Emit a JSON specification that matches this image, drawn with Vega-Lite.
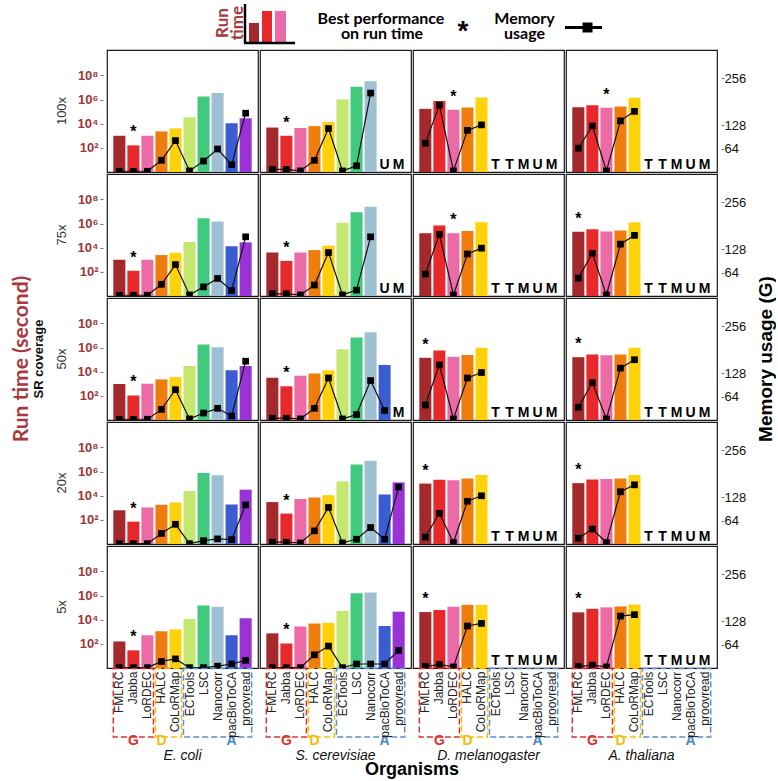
{
  "$schema": "https://vega.github.io/schema/vega-lite/v6.json",
  "padding": {"left": 11, "top": 2, "right": 0, "bottom": 0},
  "config": {
    "font": "Liberation Sans",
    "view": {"stroke": "#1a1a1a", "strokeWidth": 1.2},
    "axis": {"grid": false, "domain": false, "tickSize": 3, "tickColor": "#777", "labelPadding": 2, "labelFlush": false}
  },
  "spacing": 0,
  "vconcat": [
    {
      "width": 611,
      "height": 45,
      "view": {"stroke": null},
      "data": {"values": [{}]},
      "layer": [
        {"mark": {"type": "rect", "color": "#a4292d"}, "encoding": {
          "x": {"datum": 145, "type": "quantitative", "scale": {"domain": [0, 611], "nice": false, "zero": false}, "axis": null},
          "x2": {"datum": 155},
          "y": {"datum": 19, "type": "quantitative", "scale": {"domain": [0, 45], "nice": false, "zero": false, "reverse": true}, "axis": null},
          "y2": {"datum": 38}}},
        {"mark": {"type": "rect", "color": "#e8292c"}, "encoding": {"x": {"datum": 158, "type": "quantitative"}, "x2": {"datum": 168}, "y": {"datum": 7, "type": "quantitative"}, "y2": {"datum": 38}}},
        {"mark": {"type": "rect", "color": "#ec6aa6"}, "encoding": {"x": {"datum": 171, "type": "quantitative"}, "x2": {"datum": 182}, "y": {"datum": 7, "type": "quantitative"}, "y2": {"datum": 38}}},
        {"mark": {"type": "rule", "color": "#000", "strokeWidth": 2.5}, "encoding": {"x": {"datum": 141, "type": "quantitative"}, "y": {"datum": 0, "type": "quantitative"}, "y2": {"datum": 39}}},
        {"mark": {"type": "rule", "color": "#000", "strokeWidth": 2.5}, "encoding": {"x": {"datum": 140, "type": "quantitative"}, "x2": {"datum": 191}, "y": {"datum": 39, "type": "quantitative"}}},
        {"mark": {"type": "text", "text": "Run", "angle": 270, "font": "Lato", "fontSize": 17, "fontWeight": "bold", "color": "#a8393c", "align": "center", "baseline": "middle"}, "encoding": {"x": {"datum": 119, "type": "quantitative"}, "y": {"datum": 19, "type": "quantitative"}}},
        {"mark": {"type": "text", "text": "time", "angle": 270, "font": "Lato", "fontSize": 17, "fontWeight": "bold", "color": "#a8393c", "align": "center", "baseline": "middle"}, "encoding": {"x": {"datum": 134, "type": "quantitative"}, "y": {"datum": 19, "type": "quantitative"}}},
        {"mark": {"type": "text", "text": "Best performance", "font": "Lato", "fontSize": 16, "fontWeight": "bold", "color": "#000", "align": "center", "baseline": "middle"}, "encoding": {"x": {"datum": 277, "type": "quantitative"}, "y": {"datum": 15, "type": "quantitative"}}},
        {"mark": {"type": "text", "text": "on run time", "font": "Lato", "fontSize": 16, "fontWeight": "bold", "color": "#000", "align": "center", "baseline": "middle"}, "encoding": {"x": {"datum": 278, "type": "quantitative"}, "y": {"datum": 29.5, "type": "quantitative"}}},
        {"mark": {"type": "text", "text": "*", "fontSize": 28, "fontWeight": "bold", "color": "#000", "align": "center", "baseline": "alphabetic"}, "encoding": {"x": {"datum": 359, "type": "quantitative"}, "y": {"datum": 36, "type": "quantitative"}}},
        {"mark": {"type": "text", "text": "Memory", "font": "Lato", "fontSize": 16, "fontWeight": "bold", "color": "#000", "align": "center", "baseline": "middle"}, "encoding": {"x": {"datum": 420.5, "type": "quantitative"}, "y": {"datum": 15, "type": "quantitative"}}},
        {"mark": {"type": "text", "text": "usage", "font": "Lato", "fontSize": 16, "fontWeight": "bold", "color": "#000", "align": "center", "baseline": "middle"}, "encoding": {"x": {"datum": 420.5, "type": "quantitative"}, "y": {"datum": 29.5, "type": "quantitative"}}},
        {"mark": {"type": "rule", "color": "#000", "strokeWidth": 3}, "encoding": {"x": {"datum": 461, "type": "quantitative"}, "x2": {"datum": 498}, "y": {"datum": 23.5, "type": "quantitative"}}},
        {"mark": {"type": "point", "shape": "square", "filled": true, "color": "#000", "opacity": 1, "size": 100}, "encoding": {"x": {"datum": 483.5, "type": "quantitative"}, "y": {"datum": 23.5, "type": "quantitative"}}}
      ]
    },
    {
      "spacing": 0,
      "hconcat": [
        {
          "title": {"text": "Run time (second)", "orient": "left", "anchor": "middle", "font": "Lato", "fontSize": 21, "fontWeight": "bold", "color": "#a8393c", "offset": 1},
          "data": {"values": [{"c": "100x"}, {"c": "75x"}, {"c": "50x"}, {"c": "20x"}, {"c": "5x"}]},
          "facet": {
            "row": {"field": "c", "type": "nominal", "sort": ["100x", "75x", "50x", "20x", "5x"],
              "header": {"title": "SR coverage", "titleFontSize": 13, "titleFontWeight": "bold", "titleColor": "#111", "labelFontSize": 13, "labelColor": "#333", "labelPadding": 8, "titlePadding": 0}}
          },
          "spacing": 0,
          "spec": {
            "width": 1,
            "height": 122,
            "view": {"stroke": "transparent"},
            "mark": {"type": "point", "opacity": 0, "size": 1},
            "encoding": {
              "y": {"datum": 100000, "type": "quantitative", "scale": {"type": "log", "domain": [1, 12600000000], "nice": false},
                "axis": {"orient": "left", "title": null, "values": [100, 10000, 1000000, 100000000], "labelExpr": "datum.value == 100 ? '10²' : datum.value == 10000 ? '10⁴' : datum.value == 1000000 ? '10⁶' : '10⁸'", "labelColor": "#a0353a", "labelFontSize": 13, "labelFontWeight": "bold"}}
            }
          }
        },
        {
          "data": {"values": [
{"c":"100x","o":"E. coli","t":"FMLRC","r":1000,"m":2},
{"c":"100x","o":"E. coli","t":"Jabba","r":160,"m":2,"b":1},
{"c":"100x","o":"E. coli","t":"LoRDEC","r":1000,"m":2},
{"c":"100x","o":"E. coli","t":"HALC","r":2300,"m":32},
{"c":"100x","o":"E. coli","t":"CoLoRMap","r":4000,"m":86},
{"c":"100x","o":"E. coli","t":"ECTools","r":34000,"m":3},
{"c":"100x","o":"E. coli","t":"LSC","r":1800000,"m":30},
{"c":"100x","o":"E. coli","t":"Nanocorr","r":3400000,"m":63},
{"c":"100x","o":"E. coli","t":"pacBioToCA","r":11000,"m":20},
{"c":"100x","o":"E. coli","t":"proovread","r":28000,"m":161},
{"c":"100x","o":"S. cerevisiae","t":"FMLRC","r":4800,"m":7},
{"c":"100x","o":"S. cerevisiae","t":"Jabba","r":1000,"m":7,"b":1},
{"c":"100x","o":"S. cerevisiae","t":"LoRDEC","r":4300,"m":3},
{"c":"100x","o":"S. cerevisiae","t":"HALC","r":6300,"m":32},
{"c":"100x","o":"S. cerevisiae","t":"CoLoRMap","r":14000,"m":119},
{"c":"100x","o":"S. cerevisiae","t":"ECTools","r":1000000,"m":3},
{"c":"100x","o":"S. cerevisiae","t":"LSC","r":11700000,"m":17},
{"c":"100x","o":"S. cerevisiae","t":"Nanocorr","r":32000000,"m":216},
{"c":"100x","o":"S. cerevisiae","t":"pacBioToCA","na":"U"},
{"c":"100x","o":"S. cerevisiae","t":"proovread","na":"M"},
{"c":"100x","o":"D. melanogaster","t":"FMLRC","r":170000,"m":79},
{"c":"100x","o":"D. melanogaster","t":"Jabba","r":760000,"m":183},
{"c":"100x","o":"D. melanogaster","t":"LoRDEC","r":141000,"m":3,"b":1},
{"c":"100x","o":"D. melanogaster","t":"HALC","r":220000,"m":114},
{"c":"100x","o":"D. melanogaster","t":"CoLoRMap","r":1500000,"m":129},
{"c":"100x","o":"D. melanogaster","t":"ECTools","na":"T"},
{"c":"100x","o":"D. melanogaster","t":"LSC","na":"T"},
{"c":"100x","o":"D. melanogaster","t":"Nanocorr","na":"M"},
{"c":"100x","o":"D. melanogaster","t":"pacBioToCA","na":"U"},
{"c":"100x","o":"D. melanogaster","t":"proovread","na":"M"},
{"c":"100x","o":"A. thaliana","t":"FMLRC","r":234000,"m":65},
{"c":"100x","o":"A. thaliana","t":"Jabba","r":340000,"m":126},
{"c":"100x","o":"A. thaliana","t":"LoRDEC","r":204000,"m":3,"b":1},
{"c":"100x","o":"A. thaliana","t":"HALC","r":263000,"m":140},
{"c":"100x","o":"A. thaliana","t":"CoLoRMap","r":1400000,"m":166},
{"c":"100x","o":"A. thaliana","t":"ECTools","na":"T"},
{"c":"100x","o":"A. thaliana","t":"LSC","na":"T"},
{"c":"100x","o":"A. thaliana","t":"Nanocorr","na":"M"},
{"c":"100x","o":"A. thaliana","t":"pacBioToCA","na":"U"},
{"c":"100x","o":"A. thaliana","t":"proovread","na":"M"},
{"c":"75x","o":"E. coli","t":"FMLRC","r":1000,"m":2},
{"c":"75x","o":"E. coli","t":"Jabba","r":123,"m":2,"b":1},
{"c":"75x","o":"E. coli","t":"LoRDEC","r":1000,"m":2},
{"c":"75x","o":"E. coli","t":"HALC","r":2450,"m":32},
{"c":"75x","o":"E. coli","t":"CoLoRMap","r":3800,"m":86},
{"c":"75x","o":"E. coli","t":"ECTools","r":29500,"m":3},
{"c":"75x","o":"E. coli","t":"LSC","r":2800000,"m":25},
{"c":"75x","o":"E. coli","t":"Nanocorr","r":1500000,"m":48},
{"c":"75x","o":"E. coli","t":"pacBioToCA","r":13200,"m":15},
{"c":"75x","o":"E. coli","t":"proovread","r":27500,"m":162},
{"c":"75x","o":"S. cerevisiae","t":"FMLRC","r":4000,"m":6},
{"c":"75x","o":"S. cerevisiae","t":"Jabba","r":800,"m":6,"b":1},
{"c":"75x","o":"S. cerevisiae","t":"LoRDEC","r":4000,"m":3},
{"c":"75x","o":"S. cerevisiae","t":"HALC","r":6300,"m":30},
{"c":"75x","o":"S. cerevisiae","t":"CoLoRMap","r":14800,"m":119},
{"c":"75x","o":"S. cerevisiae","t":"ECTools","r":1175000,"m":3},
{"c":"75x","o":"S. cerevisiae","t":"LSC","r":8700000,"m":16},
{"c":"75x","o":"S. cerevisiae","t":"Nanocorr","r":25000000,"m":162},
{"c":"75x","o":"S. cerevisiae","t":"pacBioToCA","na":"U"},
{"c":"75x","o":"S. cerevisiae","t":"proovread","na":"M"},
{"c":"75x","o":"D. melanogaster","t":"FMLRC","r":158000,"m":60},
{"c":"75x","o":"D. melanogaster","t":"Jabba","r":676000,"m":169},
{"c":"75x","o":"D. melanogaster","t":"LoRDEC","r":158000,"m":3,"b":1},
{"c":"75x","o":"D. melanogaster","t":"HALC","r":245000,"m":115},
{"c":"75x","o":"D. melanogaster","t":"CoLoRMap","r":1260000,"m":131},
{"c":"75x","o":"D. melanogaster","t":"ECTools","na":"T"},
{"c":"75x","o":"D. melanogaster","t":"LSC","na":"T"},
{"c":"75x","o":"D. melanogaster","t":"Nanocorr","na":"M"},
{"c":"75x","o":"D. melanogaster","t":"pacBioToCA","na":"U"},
{"c":"75x","o":"D. melanogaster","t":"proovread","na":"M"},
{"c":"75x","o":"A. thaliana","t":"FMLRC","r":204000,"m":49,"b":1},
{"c":"75x","o":"A. thaliana","t":"Jabba","r":340000,"m":117},
{"c":"75x","o":"A. thaliana","t":"LoRDEC","r":219000,"m":3},
{"c":"75x","o":"A. thaliana","t":"HALC","r":263000,"m":142},
{"c":"75x","o":"A. thaliana","t":"CoLoRMap","r":1260000,"m":166},
{"c":"75x","o":"A. thaliana","t":"ECTools","na":"T"},
{"c":"75x","o":"A. thaliana","t":"LSC","na":"T"},
{"c":"75x","o":"A. thaliana","t":"Nanocorr","na":"M"},
{"c":"75x","o":"A. thaliana","t":"pacBioToCA","na":"U"},
{"c":"75x","o":"A. thaliana","t":"proovread","na":"M"},
{"c":"50x","o":"E. coli","t":"FMLRC","r":955,"m":2},
{"c":"50x","o":"E. coli","t":"Jabba","r":107,"m":2,"b":1},
{"c":"50x","o":"E. coli","t":"LoRDEC","r":1000,"m":2},
{"c":"50x","o":"E. coli","t":"HALC","r":2300,"m":29},
{"c":"50x","o":"E. coli","t":"CoLoRMap","r":3550,"m":83},
{"c":"50x","o":"E. coli","t":"ECTools","r":29500,"m":3},
{"c":"50x","o":"E. coli","t":"LSC","r":1800000,"m":19},
{"c":"50x","o":"E. coli","t":"Nanocorr","r":1050000,"m":32},
{"c":"50x","o":"E. coli","t":"pacBioToCA","r":13200,"m":11},
{"c":"50x","o":"E. coli","t":"proovread","r":29500,"m":161},
{"c":"50x","o":"S. cerevisiae","t":"FMLRC","r":3160,"m":5},
{"c":"50x","o":"S. cerevisiae","t":"Jabba","r":620,"m":5,"b":1},
{"c":"50x","o":"S. cerevisiae","t":"LoRDEC","r":4570,"m":3},
{"c":"50x","o":"S. cerevisiae","t":"HALC","r":7080,"m":32},
{"c":"50x","o":"S. cerevisiae","t":"CoLoRMap","r":13200,"m":115},
{"c":"50x","o":"S. cerevisiae","t":"ECTools","r":708000,"m":3},
{"c":"50x","o":"S. cerevisiae","t":"LSC","r":6760000,"m":15},
{"c":"50x","o":"S. cerevisiae","t":"Nanocorr","r":18200000,"m":108},
{"c":"50x","o":"S. cerevisiae","t":"pacBioToCA","r":35500,"m":26},
{"c":"50x","o":"S. cerevisiae","t":"proovread","na":"M"},
{"c":"50x","o":"D. melanogaster","t":"FMLRC","r":141000,"m":41,"b":1},
{"c":"50x","o":"D. melanogaster","t":"Jabba","r":562000,"m":151},
{"c":"50x","o":"D. melanogaster","t":"LoRDEC","r":170000,"m":3},
{"c":"50x","o":"D. melanogaster","t":"HALC","r":245000,"m":115},
{"c":"50x","o":"D. melanogaster","t":"CoLoRMap","r":977000,"m":130},
{"c":"50x","o":"D. melanogaster","t":"ECTools","na":"T"},
{"c":"50x","o":"D. melanogaster","t":"LSC","na":"T"},
{"c":"50x","o":"D. melanogaster","t":"Nanocorr","na":"M"},
{"c":"50x","o":"D. melanogaster","t":"pacBioToCA","na":"U"},
{"c":"50x","o":"D. melanogaster","t":"proovread","na":"M"},
{"c":"50x","o":"A. thaliana","t":"FMLRC","r":158000,"m":35,"b":1},
{"c":"50x","o":"A. thaliana","t":"Jabba","r":263000,"m":102},
{"c":"50x","o":"A. thaliana","t":"LoRDEC","r":234000,"m":3},
{"c":"50x","o":"A. thaliana","t":"HALC","r":263000,"m":142},
{"c":"50x","o":"A. thaliana","t":"CoLoRMap","r":977000,"m":165},
{"c":"50x","o":"A. thaliana","t":"ECTools","na":"T"},
{"c":"50x","o":"A. thaliana","t":"LSC","na":"T"},
{"c":"50x","o":"A. thaliana","t":"Nanocorr","na":"M"},
{"c":"50x","o":"A. thaliana","t":"pacBioToCA","na":"U"},
{"c":"50x","o":"A. thaliana","t":"proovread","na":"M"},
{"c":"20x","o":"E. coli","t":"FMLRC","r":617,"m":1},
{"c":"20x","o":"E. coli","t":"Jabba","r":71,"m":1,"b":1},
{"c":"20x","o":"E. coli","t":"LoRDEC","r":1070,"m":1},
{"c":"20x","o":"E. coli","t":"HALC","r":1780,"m":29},
{"c":"20x","o":"E. coli","t":"CoLoRMap","r":2750,"m":54},
{"c":"20x","o":"E. coli","t":"ECTools","r":24500,"m":1},
{"c":"20x","o":"E. coli","t":"LSC","r":760000,"m":9},
{"c":"20x","o":"E. coli","t":"Nanocorr","r":490000,"m":14},
{"c":"20x","o":"E. coli","t":"pacBioToCA","r":1900,"m":12},
{"c":"20x","o":"E. coli","t":"proovread","r":31600,"m":107},
{"c":"20x","o":"S. cerevisiae","t":"FMLRC","r":2950,"m":5},
{"c":"20x","o":"S. cerevisiae","t":"Jabba","r":330,"m":5,"b":1},
{"c":"20x","o":"S. cerevisiae","t":"LoRDEC","r":5250,"m":3},
{"c":"20x","o":"S. cerevisiae","t":"HALC","r":7080,"m":36},
{"c":"20x","o":"S. cerevisiae","t":"CoLoRMap","r":11000,"m":100},
{"c":"20x","o":"S. cerevisiae","t":"ECTools","r":151000,"m":3},
{"c":"20x","o":"S. cerevisiae","t":"LSC","r":3900000,"m":13},
{"c":"20x","o":"S. cerevisiae","t":"Nanocorr","r":7760000,"m":45},
{"c":"20x","o":"S. cerevisiae","t":"pacBioToCA","r":12300,"m":13},
{"c":"20x","o":"S. cerevisiae","t":"proovread","r":126000,"m":156},
{"c":"20x","o":"D. melanogaster","t":"FMLRC","r":100000,"m":19,"b":1},
{"c":"20x","o":"D. melanogaster","t":"Jabba","r":204000,"m":84},
{"c":"20x","o":"D. melanogaster","t":"LoRDEC","r":190000,"m":4},
{"c":"20x","o":"D. melanogaster","t":"HALC","r":263000,"m":117},
{"c":"20x","o":"D. melanogaster","t":"CoLoRMap","r":525000,"m":132},
{"c":"20x","o":"D. melanogaster","t":"ECTools","na":"T"},
{"c":"20x","o":"D. melanogaster","t":"LSC","na":"T"},
{"c":"20x","o":"D. melanogaster","t":"Nanocorr","na":"M"},
{"c":"20x","o":"D. melanogaster","t":"pacBioToCA","na":"U"},
{"c":"20x","o":"D. melanogaster","t":"proovread","na":"M"},
{"c":"20x","o":"A. thaliana","t":"FMLRC","r":110000,"m":16,"b":1},
{"c":"20x","o":"A. thaliana","t":"Jabba","r":219000,"m":41},
{"c":"20x","o":"A. thaliana","t":"LoRDEC","r":245000,"m":4},
{"c":"20x","o":"A. thaliana","t":"HALC","r":263000,"m":143},
{"c":"20x","o":"A. thaliana","t":"CoLoRMap","r":525000,"m":162},
{"c":"20x","o":"A. thaliana","t":"ECTools","na":"T"},
{"c":"20x","o":"A. thaliana","t":"LSC","na":"T"},
{"c":"20x","o":"A. thaliana","t":"Nanocorr","na":"M"},
{"c":"20x","o":"A. thaliana","t":"pacBioToCA","na":"U"},
{"c":"20x","o":"A. thaliana","t":"proovread","na":"M"},
{"c":"5x","o":"E. coli","t":"FMLRC","r":158,"m":1},
{"c":"5x","o":"E. coli","t":"Jabba","r":29,"m":1,"b":1},
{"c":"5x","o":"E. coli","t":"LoRDEC","r":513,"m":1},
{"c":"5x","o":"E. coli","t":"HALC","r":1100,"m":18},
{"c":"5x","o":"E. coli","t":"CoLoRMap","r":1580,"m":25},
{"c":"5x","o":"E. coli","t":"ECTools","r":11700,"m":1},
{"c":"5x","o":"E. coli","t":"LSC","r":151000,"m":1},
{"c":"5x","o":"E. coli","t":"Nanocorr","r":117000,"m":5},
{"c":"5x","o":"E. coli","t":"pacBioToCA","r":513,"m":11},
{"c":"5x","o":"E. coli","t":"proovread","r":13200,"m":21},
{"c":"5x","o":"S. cerevisiae","t":"FMLRC","r":740,"m":1},
{"c":"5x","o":"S. cerevisiae","t":"Jabba","r":107,"m":1,"b":1},
{"c":"5x","o":"S. cerevisiae","t":"LoRDEC","r":2750,"m":1},
{"c":"5x","o":"S. cerevisiae","t":"HALC","r":4800,"m":36},
{"c":"5x","o":"S. cerevisiae","t":"CoLoRMap","r":5500,"m":60},
{"c":"5x","o":"S. cerevisiae","t":"ECTools","r":52500,"m":1},
{"c":"5x","o":"S. cerevisiae","t":"LSC","r":1510000,"m":11},
{"c":"5x","o":"S. cerevisiae","t":"Nanocorr","r":1740000,"m":11},
{"c":"5x","o":"S. cerevisiae","t":"pacBioToCA","r":2950,"m":11},
{"c":"5x","o":"S. cerevisiae","t":"proovread","r":45700,"m":48},
{"c":"5x","o":"D. melanogaster","t":"FMLRC","r":42700,"m":4,"b":1},
{"c":"5x","o":"D. melanogaster","t":"Jabba","r":63000,"m":10},
{"c":"5x","o":"D. melanogaster","t":"LoRDEC","r":117000,"m":3},
{"c":"5x","o":"D. melanogaster","t":"HALC","r":170000,"m":115},
{"c":"5x","o":"D. melanogaster","t":"CoLoRMap","r":170000,"m":122},
{"c":"5x","o":"D. melanogaster","t":"ECTools","na":"T"},
{"c":"5x","o":"D. melanogaster","t":"LSC","na":"T"},
{"c":"5x","o":"D. melanogaster","t":"Nanocorr","na":"M"},
{"c":"5x","o":"D. melanogaster","t":"pacBioToCA","na":"U"},
{"c":"5x","o":"D. melanogaster","t":"proovread","na":"M"},
{"c":"5x","o":"A. thaliana","t":"FMLRC","r":40700,"m":4,"b":1},
{"c":"5x","o":"A. thaliana","t":"Jabba","r":79400,"m":8},
{"c":"5x","o":"A. thaliana","t":"LoRDEC","r":105000,"m":3},
{"c":"5x","o":"A. thaliana","t":"HALC","r":126000,"m":142},
{"c":"5x","o":"A. thaliana","t":"CoLoRMap","r":182000,"m":146},
{"c":"5x","o":"A. thaliana","t":"ECTools","na":"T"},
{"c":"5x","o":"A. thaliana","t":"LSC","na":"T"},
{"c":"5x","o":"A. thaliana","t":"Nanocorr","na":"M"},
{"c":"5x","o":"A. thaliana","t":"pacBioToCA","na":"U"},
{"c":"5x","o":"A. thaliana","t":"proovread","na":"M"},
{"k":"box","c":"5x","o":"E. coli","g":"G","t0":"FMLRC","t1":"LoRDEC","lt":"Jabba"},
{"k":"box","c":"5x","o":"E. coli","g":"D","t0":"HALC","t1":"CoLoRMap","lt":"HALC"},
{"k":"box","c":"5x","o":"E. coli","g":"A","t0":"ECTools","t1":"proovread","lt":"pacBioToCA"},
{"k":"box","c":"5x","o":"S. cerevisiae","g":"G","t0":"FMLRC","t1":"LoRDEC","lt":"Jabba"},
{"k":"box","c":"5x","o":"S. cerevisiae","g":"D","t0":"HALC","t1":"CoLoRMap","lt":"HALC"},
{"k":"box","c":"5x","o":"S. cerevisiae","g":"A","t0":"ECTools","t1":"proovread","lt":"pacBioToCA"},
{"k":"box","c":"5x","o":"D. melanogaster","g":"G","t0":"FMLRC","t1":"LoRDEC","lt":"Jabba"},
{"k":"box","c":"5x","o":"D. melanogaster","g":"D","t0":"HALC","t1":"CoLoRMap","lt":"HALC"},
{"k":"box","c":"5x","o":"D. melanogaster","g":"A","t0":"ECTools","t1":"proovread","lt":"pacBioToCA"},
{"k":"box","c":"5x","o":"A. thaliana","g":"G","t0":"FMLRC","t1":"LoRDEC","lt":"Jabba"},
{"k":"box","c":"5x","o":"A. thaliana","g":"D","t0":"HALC","t1":"CoLoRMap","lt":"HALC"},
{"k":"box","c":"5x","o":"A. thaliana","g":"A","t0":"ECTools","t1":"proovread","lt":"pacBioToCA"}
          ]},
          "facet": {
            "row": {"field": "c", "type": "nominal", "sort": ["100x", "75x", "50x", "20x", "5x"], "header": {"labels": false, "title": null}},
            "column": {"field": "o", "type": "nominal", "sort": ["E. coli", "S. cerevisiae", "D. melanogaster", "A. thaliana"],
              "header": {"title": "Organisms", "titleOrient": "bottom", "labelOrient": "bottom", "labelFontSize": 14, "labelFontStyle": "italic", "labelColor": "#111", "titleFontSize": 18, "titleFontWeight": "bold", "titleColor": "#000", "labelPadding": 0, "titlePadding": -12}}
          },
          "spacing": {"row": 0, "column": 0},
          "align": {"row": "each", "column": "all"},
          "spec": {
            "width": 151,
            "height": 122,
            "resolve": {"scale": {"y": "independent"}},
            "layer": [
              {"transform": [{"filter": "datum.r > 0"}],
               "mark": {"type": "bar"},
               "encoding": {
                 "x": {"field": "t", "type": "nominal", "axis": null, "scale": {"domain": ["FMLRC","Jabba","LoRDEC","HALC","CoLoRMap","ECTools","LSC","Nanocorr","pacBioToCA","proovread"], "paddingInner": 0.14, "paddingOuter": 0.45}},
                 "y": {"field": "r", "type": "quantitative", "stack": null, "scale": {"type": "log", "domain": [1, 12600000000], "nice": false}, "axis": null},
                 "color": {"field": "t", "type": "nominal", "scale": {"domain": ["FMLRC","Jabba","LoRDEC","HALC","CoLoRMap","ECTools","LSC","Nanocorr","pacBioToCA","proovread"], "range": ["#a4292d","#e8292c","#ec6aa6","#ef7d0e","#fed20a","#c4e86f","#41ca7d","#9fc0d2","#3a5ed1","#9a33d6"]}, "legend": null}
               }},
              {"transform": [{"filter": "datum.b == 1"}],
               "mark": {"type": "text", "text": "*", "fontSize": 16, "fontWeight": "bold", "color": "#000", "baseline": "alphabetic", "dy": -8},
               "encoding": {
                 "x": {"field": "t", "type": "nominal", "axis": null},
                 "y": {"field": "r", "type": "quantitative", "scale": {"type": "log", "domain": [1, 12600000000], "nice": false}, "axis": null}
               }},
              {"transform": [{"filter": "datum.na != null"}],
               "mark": {"type": "text", "fontSize": 14, "fontWeight": "bold", "color": "#000", "baseline": "alphabetic", "dy": -3, "clip": true},
               "encoding": {
                 "x": {"field": "t", "type": "nominal", "axis": null},
                 "y": {"datum": 1, "type": "quantitative", "scale": {"type": "log", "domain": [1, 12600000000], "nice": false}, "axis": null},
                 "text": {"field": "na"}
               }},
              {"transform": [{"filter": "datum.m != null"}],
               "mark": {"type": "line", "color": "#111", "strokeWidth": 1.2, "clip": true},
               "encoding": {
                 "x": {"field": "t", "type": "nominal", "axis": null, "sort": ["FMLRC","Jabba","LoRDEC","HALC","CoLoRMap","ECTools","LSC","Nanocorr","pacBioToCA","proovread"]},
                 "y": {"field": "m", "type": "quantitative", "scale": {"domain": [0, 334], "nice": false, "zero": false}, "axis": null}
               }},
              {"transform": [{"filter": "datum.m != null"}],
               "mark": {"type": "point", "shape": "square", "filled": true, "color": "#000", "opacity": 1, "size": 45, "clip": true},
               "encoding": {
                 "x": {"field": "t", "type": "nominal", "axis": null},
                 "y": {"field": "m", "type": "quantitative", "scale": {"domain": [0, 334], "nice": false, "zero": false}, "axis": null}
               }},
              {"transform": [{"filter": "datum.k == 'box'"}],
               "mark": {"type": "rect", "fill": "transparent", "strokeWidth": 1.5, "strokeDash": [6, 3]},
               "encoding": {
                 "x": {"field": "t0", "type": "nominal", "axis": null, "bandPosition": 0},
                 "x2": {"field": "t1", "bandPosition": 1},
                 "y": {"datum": -0.005, "type": "quantitative", "scale": {"domain": [0, 1], "nice": false, "zero": false}, "axis": null},
                 "y2": {"datum": -0.565},
                 "stroke": {"field": "g", "type": "nominal", "scale": {"domain": ["G", "D", "A"], "range": ["#d8342c", "#f3bd0f", "#5a8fd0"]}, "legend": null}
               }},
              {"transform": [{"filter": "datum.k == 'box'"}],
               "mark": {"type": "text", "fontSize": 14, "fontWeight": "bold", "baseline": "middle"},
               "encoding": {
                 "x": {"field": "lt", "type": "nominal", "axis": null},
                 "y": {"datum": -0.595, "type": "quantitative", "scale": {"domain": [0, 1], "nice": false, "zero": false}, "axis": null},
                 "text": {"field": "g"},
                 "fill": {"field": "g", "type": "nominal", "scale": {"domain": ["G", "D", "A"], "range": ["#d8342c", "#f3bd0f", "#4a86c8"]}, "legend": null}
               }},
              {"transform": [{"filter": "datum.c == '5x' && datum.k == null"}],
               "mark": {"type": "text", "angle": 270, "align": "right", "baseline": "middle", "fontSize": 12, "color": "#222"},
               "encoding": {
                 "x": {"field": "t", "type": "nominal", "axis": null},
                 "y": {"datum": -0.03, "type": "quantitative", "scale": {"domain": [0, 1], "nice": false, "zero": false}, "axis": null},
                 "text": {"field": "t"}
               }}
            ]
          }
        },
        {
          "title": {"text": "Memory usage (G)", "orient": "right", "anchor": "middle", "angle": 270, "baseline": "top", "fontSize": 19, "fontWeight": "bold", "color": "#000", "offset": -8},
          "data": {"values": [{"c": "100x"}, {"c": "75x"}, {"c": "50x"}, {"c": "20x"}, {"c": "5x"}]},
          "facet": {
            "row": {"field": "c", "type": "nominal", "sort": ["100x", "75x", "50x", "20x", "5x"], "header": {"labels": false, "title": null}}
          },
          "spacing": 0,
          "spec": {
            "width": 1,
            "height": 122,
            "view": {"stroke": "transparent"},
            "mark": {"type": "point", "opacity": 0, "size": 1},
            "encoding": {
              "y": {"datum": 167, "type": "quantitative", "scale": {"domain": [0, 334], "nice": false, "zero": false},
                "axis": {"orient": "right", "title": null, "values": [64, 128, 256], "labelColor": "#111", "labelFontSize": 13, "labelPadding": 0}}
            }
          }
        }
      ]
    }
  ]
}
